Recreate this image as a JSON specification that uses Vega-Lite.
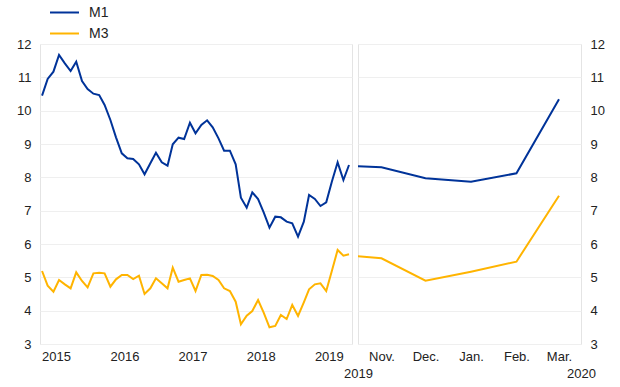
{
  "$schema": "https://vega.github.io/schema/vega-lite/v6.json",
  "background": "white",
  "padding": {"left": 16, "top": 4, "right": 16, "bottom": 4},
  "bounds": "flush",
  "spacing": 6,
  "config": {
    "font": "Liberation Sans",
    "view": {"stroke": "#e4e4e4", "strokeWidth": 1},
    "axis": {"labelFont": "Liberation Sans", "labelFontSize": 13, "labelColor": "#222222", "gridColor": "#efefef", "domain": false, "title": null, "ticks": false}
  },
  "datasets": {
    "left": [
      {"date": "2015-04-01", "series": "M1", "value": 10.45},
      {"date": "2015-05-01", "series": "M1", "value": 10.95},
      {"date": "2015-06-01", "series": "M1", "value": 11.17},
      {"date": "2015-07-01", "series": "M1", "value": 11.67},
      {"date": "2015-08-01", "series": "M1", "value": 11.42},
      {"date": "2015-09-01", "series": "M1", "value": 11.19},
      {"date": "2015-10-01", "series": "M1", "value": 11.47},
      {"date": "2015-11-01", "series": "M1", "value": 10.89},
      {"date": "2015-12-01", "series": "M1", "value": 10.65},
      {"date": "2016-01-01", "series": "M1", "value": 10.51},
      {"date": "2016-02-01", "series": "M1", "value": 10.47},
      {"date": "2016-03-01", "series": "M1", "value": 10.17},
      {"date": "2016-04-01", "series": "M1", "value": 9.72},
      {"date": "2016-05-01", "series": "M1", "value": 9.2},
      {"date": "2016-06-01", "series": "M1", "value": 8.72},
      {"date": "2016-07-01", "series": "M1", "value": 8.57},
      {"date": "2016-08-01", "series": "M1", "value": 8.55},
      {"date": "2016-09-01", "series": "M1", "value": 8.39},
      {"date": "2016-10-01", "series": "M1", "value": 8.09},
      {"date": "2016-11-01", "series": "M1", "value": 8.42},
      {"date": "2016-12-01", "series": "M1", "value": 8.74},
      {"date": "2017-01-01", "series": "M1", "value": 8.45},
      {"date": "2017-02-01", "series": "M1", "value": 8.35},
      {"date": "2017-03-01", "series": "M1", "value": 8.99},
      {"date": "2017-04-01", "series": "M1", "value": 9.19},
      {"date": "2017-05-01", "series": "M1", "value": 9.15},
      {"date": "2017-06-01", "series": "M1", "value": 9.64},
      {"date": "2017-07-01", "series": "M1", "value": 9.32},
      {"date": "2017-08-01", "series": "M1", "value": 9.57},
      {"date": "2017-09-01", "series": "M1", "value": 9.71},
      {"date": "2017-10-01", "series": "M1", "value": 9.5},
      {"date": "2017-11-01", "series": "M1", "value": 9.17},
      {"date": "2017-12-01", "series": "M1", "value": 8.8},
      {"date": "2018-01-01", "series": "M1", "value": 8.8},
      {"date": "2018-02-01", "series": "M1", "value": 8.39},
      {"date": "2018-03-01", "series": "M1", "value": 7.39},
      {"date": "2018-04-01", "series": "M1", "value": 7.09},
      {"date": "2018-05-01", "series": "M1", "value": 7.55},
      {"date": "2018-06-01", "series": "M1", "value": 7.35},
      {"date": "2018-07-01", "series": "M1", "value": 6.95},
      {"date": "2018-08-01", "series": "M1", "value": 6.49},
      {"date": "2018-09-01", "series": "M1", "value": 6.82},
      {"date": "2018-10-01", "series": "M1", "value": 6.8},
      {"date": "2018-11-01", "series": "M1", "value": 6.67},
      {"date": "2018-12-01", "series": "M1", "value": 6.62},
      {"date": "2019-01-01", "series": "M1", "value": 6.22},
      {"date": "2019-02-01", "series": "M1", "value": 6.67},
      {"date": "2019-03-01", "series": "M1", "value": 7.47},
      {"date": "2019-04-01", "series": "M1", "value": 7.35},
      {"date": "2019-05-01", "series": "M1", "value": 7.14},
      {"date": "2019-06-01", "series": "M1", "value": 7.25},
      {"date": "2019-07-01", "series": "M1", "value": 7.87},
      {"date": "2019-08-01", "series": "M1", "value": 8.45},
      {"date": "2019-09-01", "series": "M1", "value": 7.92},
      {"date": "2019-10-01", "series": "M1", "value": 8.37},
      {"date": "2015-04-01", "series": "M3", "value": 5.19},
      {"date": "2015-05-01", "series": "M3", "value": 4.75},
      {"date": "2015-06-01", "series": "M3", "value": 4.57},
      {"date": "2015-07-01", "series": "M3", "value": 4.92},
      {"date": "2015-08-01", "series": "M3", "value": 4.79},
      {"date": "2015-09-01", "series": "M3", "value": 4.67},
      {"date": "2015-10-01", "series": "M3", "value": 5.15},
      {"date": "2015-11-01", "series": "M3", "value": 4.89},
      {"date": "2015-12-01", "series": "M3", "value": 4.7},
      {"date": "2016-01-01", "series": "M3", "value": 5.12},
      {"date": "2016-02-01", "series": "M3", "value": 5.14},
      {"date": "2016-03-01", "series": "M3", "value": 5.12},
      {"date": "2016-04-01", "series": "M3", "value": 4.72},
      {"date": "2016-05-01", "series": "M3", "value": 4.94},
      {"date": "2016-06-01", "series": "M3", "value": 5.07},
      {"date": "2016-07-01", "series": "M3", "value": 5.07},
      {"date": "2016-08-01", "series": "M3", "value": 4.95},
      {"date": "2016-09-01", "series": "M3", "value": 5.05},
      {"date": "2016-10-01", "series": "M3", "value": 4.5},
      {"date": "2016-11-01", "series": "M3", "value": 4.67},
      {"date": "2016-12-01", "series": "M3", "value": 4.97},
      {"date": "2017-01-01", "series": "M3", "value": 4.82},
      {"date": "2017-02-01", "series": "M3", "value": 4.67},
      {"date": "2017-03-01", "series": "M3", "value": 5.29},
      {"date": "2017-04-01", "series": "M3", "value": 4.87},
      {"date": "2017-05-01", "series": "M3", "value": 4.92},
      {"date": "2017-06-01", "series": "M3", "value": 4.97},
      {"date": "2017-07-01", "series": "M3", "value": 4.59},
      {"date": "2017-08-01", "series": "M3", "value": 5.07},
      {"date": "2017-09-01", "series": "M3", "value": 5.08},
      {"date": "2017-10-01", "series": "M3", "value": 5.04},
      {"date": "2017-11-01", "series": "M3", "value": 4.92},
      {"date": "2017-12-01", "series": "M3", "value": 4.67},
      {"date": "2018-01-01", "series": "M3", "value": 4.59},
      {"date": "2018-02-01", "series": "M3", "value": 4.27},
      {"date": "2018-03-01", "series": "M3", "value": 3.59},
      {"date": "2018-04-01", "series": "M3", "value": 3.85},
      {"date": "2018-05-01", "series": "M3", "value": 3.99},
      {"date": "2018-06-01", "series": "M3", "value": 4.32},
      {"date": "2018-07-01", "series": "M3", "value": 3.94},
      {"date": "2018-08-01", "series": "M3", "value": 3.5},
      {"date": "2018-09-01", "series": "M3", "value": 3.54},
      {"date": "2018-10-01", "series": "M3", "value": 3.87},
      {"date": "2018-11-01", "series": "M3", "value": 3.75},
      {"date": "2018-12-01", "series": "M3", "value": 4.17},
      {"date": "2019-01-01", "series": "M3", "value": 3.84},
      {"date": "2019-02-01", "series": "M3", "value": 4.25},
      {"date": "2019-03-01", "series": "M3", "value": 4.64},
      {"date": "2019-04-01", "series": "M3", "value": 4.79},
      {"date": "2019-05-01", "series": "M3", "value": 4.82},
      {"date": "2019-06-01", "series": "M3", "value": 4.59},
      {"date": "2019-07-01", "series": "M3", "value": 5.19},
      {"date": "2019-08-01", "series": "M3", "value": 5.82},
      {"date": "2019-09-01", "series": "M3", "value": 5.65},
      {"date": "2019-10-01", "series": "M3", "value": 5.69}
    ],
    "right": [
      {"date": "2019-10-01", "series": "M1", "value": 8.37},
      {"date": "2019-11-01", "series": "M1", "value": 8.3},
      {"date": "2019-12-01", "series": "M1", "value": 7.97},
      {"date": "2020-01-01", "series": "M1", "value": 7.87},
      {"date": "2020-02-01", "series": "M1", "value": 8.12},
      {"date": "2020-03-01", "series": "M1", "value": 10.34},
      {"date": "2019-10-01", "series": "M3", "value": 5.69},
      {"date": "2019-11-01", "series": "M3", "value": 5.57},
      {"date": "2019-12-01", "series": "M3", "value": 4.9},
      {"date": "2020-01-01", "series": "M3", "value": 5.17},
      {"date": "2020-02-01", "series": "M3", "value": 5.47},
      {"date": "2020-03-01", "series": "M3", "value": 7.45}
    ]
  },
  "hconcat": [
    {
      "width": 312,
      "height": 300,
      "data": {"name": "left"},
      "mark": {"type": "line", "strokeWidth": 2, "clip": true},
      "encoding": {
        "x": {
          "field": "date", "type": "temporal",
          "scale": {"domain": [{"year": 2015, "month": 3, "date": 21}, {"year": 2019, "month": 10, "date": 17}]},
          "axis": {
            "values": [{"year": 2015, "month": 6, "date": 15}, {"year": 2016, "month": 6, "date": 15}, {"year": 2017, "month": 6, "date": 15}, {"year": 2018, "month": 6, "date": 15}, {"year": 2019, "month": 6, "date": 15}],
            "labelExpr": "timeFormat(datum.value, '%Y')",
            "grid": false, "labelPadding": 6, "labelFlush": false, "labelOverlap": false
          }
        },
        "y": {
          "field": "value", "type": "quantitative",
          "scale": {"domain": [3, 12], "nice": false},
          "axis": {"values": [3, 4, 5, 6, 7, 8, 9, 10, 11, 12], "labelPadding": 9}
        },
        "color": {
          "field": "series", "type": "nominal",
          "scale": {"domain": ["M1", "M3"], "range": ["#003399", "#ffb400"]},
          "legend": {
            "orient": "none", "legendX": 16, "legendY": -40, "title": null,
            "symbolType": "M-2,0H2", "symbolStrokeWidth": 2, "symbolSize": 210,
            "labelFontSize": 14, "labelColor": "#222222", "labelFont": "Liberation Sans",
            "rowPadding": 5, "labelOffset": 16
          }
        }
      }
    },
    {
      "width": 223,
      "height": 300,
      "data": {"name": "right"},
      "mark": {"type": "line", "strokeWidth": 2, "clip": true},
      "encoding": {
        "x": {
          "field": "date", "type": "temporal",
          "scale": {"domain": [{"year": 2019, "month": 10, "date": 16}, {"year": 2020, "month": 3, "date": 16}]},
          "axis": {
            "values": [{"year": 2019, "month": 10, "date": 16}, {"year": 2019, "month": 11, "date": 1}, {"year": 2019, "month": 12, "date": 1}, {"year": 2020, "month": 1, "date": 1}, {"year": 2020, "month": 2, "date": 1}, {"year": 2020, "month": 3, "date": 1}, {"year": 2020, "month": 3, "date": 16}],
            "labelExpr": "date(datum.value) == 16 ? ['', timeFormat(datum.value, '%Y')] : timeFormat(datum.value, '%b') + '.'",
            "grid": false, "labelPadding": 6, "labelFlush": false, "labelOverlap": false, "labelBound": false, "labelLineHeight": 17
          }
        },
        "y": {
          "field": "value", "type": "quantitative",
          "scale": {"domain": [3, 12], "nice": false},
          "axis": {"orient": "right", "values": [3, 4, 5, 6, 7, 8, 9, 10, 11, 12], "labelPadding": 9}
        },
        "color": {"field": "series", "type": "nominal"}
      }
    }
  ]
}
